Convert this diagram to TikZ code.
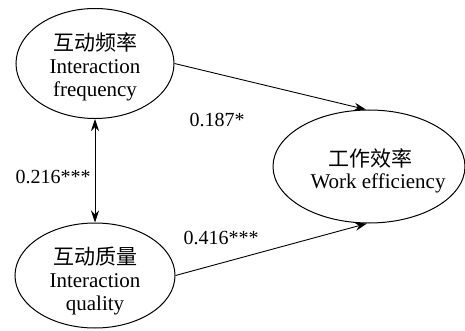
\documentclass[tikz,border=0pt]{standalone}
\usepackage{fontspec}
\setmainfont{LiberationSerif-Regular.ttf}
\newfontfamily\cjk{Noto Sans CJK SC}
\usetikzlibrary{shapes.geometric,arrows.meta}
\begin{document}
\begin{tikzpicture}[x=1pt,y=-1pt,
  ell/.style={draw,ellipse,line width=1pt,inner sep=0pt},
  txt/.style={align=center,font=\rmfamily\fontsize{21}{23}\selectfont,inner sep=0pt},
  lbl/.style={font=\rmfamily\fontsize{20}{22}\selectfont,inner sep=0pt},
  arr/.style={line width=0.9pt,-{Stealth[length=12pt,width=8pt]}},
  arrb/.style={line width=0.9pt,{Stealth[length=12pt,width=8pt]}-{Stealth[length=12pt,width=8pt]}},
]
\useasboundingbox (0,0) rectangle (465,331);
\node[ell,minimum width=158pt,minimum height=110pt] (tf) at (95,63.5) {};
\node[ell,minimum width=160pt,minimum height=105pt] (bq) at (95,275.5) {};
\node[ell,minimum width=192pt,minimum height=113pt] (we) at (369,166.5) {};
\node[txt] (tft) at (95,67) {{\cjk 互动频率}\\Interaction\\frequency};
\node[txt] (bqt) at (95,281) {{\cjk 互动质量}\\Interaction\\quality};
\node[txt] (wet1) at (370,158) {\cjk 工作效率};
\node[txt] (wet2) at (378,183) {Work efficiency};
\draw[arr] (tf.east) -- (we.93);
\draw[arr] (bq.east) -- (we.268);
\draw[arrb] (tf.south) -- (bq.north);
\node[lbl] (l1) at (217,120) {0.187*};
\node[lbl] (l2) at (53,177) {0.216***};
\node[lbl] (l3) at (221,238) {0.416***};
\end{tikzpicture}
\end{document}
